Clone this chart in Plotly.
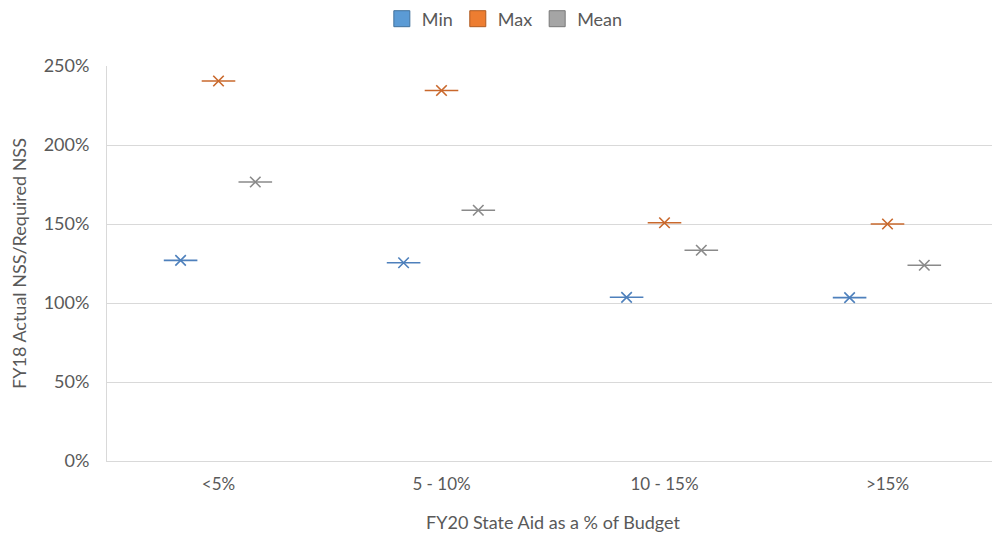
import plotly.graph_objects as go

categories = ["<5%", "5 - 10%", "10 - 15%", ">15%"]
series_names = ["Min", "Max", "Mean"]
min_vals = [1.270, 1.255, 1.036, 1.034]
max_vals = [2.405, 2.345, 1.508, 1.500]
mean_vals = [1.766, 1.587, 1.334, 1.239]
y_ticks = [0, 0.5, 1.0, 1.5, 2.0, 2.5]

values = [min_vals, max_vals, mean_vals]
offsets = [-0.17, 0.0, 0.165]
marker_colors = ["#4E80BC", "#C9682C", "#8A8A8A"]
legend_fill = ["#5B9BD5", "#ED7D31", "#A5A5A5"]
legend_border = ["#41719C", "#AE5A21", "#787878"]

fig = go.Figure()
for name, vals, off, mc, lf, lb in zip(series_names, values, offsets,
                                       marker_colors, legend_fill, legend_border):
    xs = [i + off for i in range(len(categories))]
    fig.add_trace(go.Scatter(
        x=xs, y=vals, mode="markers", showlegend=False, name=name,
        marker=dict(symbol="line-ew", size=24, color=mc,
                    line=dict(color=mc, width=1.6)),
        hoverinfo="skip"))
    fig.add_trace(go.Scatter(
        x=xs, y=vals, mode="markers", showlegend=False, name=name,
        marker=dict(symbol="x-thin", size=10.5, color=mc,
                    line=dict(color=mc, width=1.6))))
    fig.add_trace(go.Scatter(
        x=[None], y=[None], mode="markers", name=name, showlegend=True,
        marker=dict(symbol="square", size=16, color=lf,
                    line=dict(color=lb, width=1))))

font_family = "Lato, 'Open Sans', sans-serif"
fig.update_layout(
    width=992, height=530,
    margin=dict(l=99, r=1, t=58, b=77, autoexpand=False),
    paper_bgcolor="white", plot_bgcolor="white",
    font=dict(family=font_family, size=18, color="#595959"),
    legend=dict(orientation="h", x=0.446, xanchor="center", y=1.119,
                yanchor="middle", font=dict(size=18, color="#595959"),
                itemwidth=30, tracegroupgap=0),
    xaxis=dict(
        range=[-0.5, 3.5], tickmode="array",
        tickvals=list(range(len(categories))), ticktext=categories,
        showgrid=False, zeroline=False, showline=True,
        linecolor="#D9D9D9", linewidth=1, ticks="", automargin=False,
        ticklabelstandoff=8, tickfont=dict(size=17),
        title=dict(text="FY20 State Aid as a % of Budget",
                   font=dict(size=18, color="#595959"), standoff=22),
    ),
    yaxis=dict(
        range=[0, 2.5], tickmode="array", tickvals=y_ticks,
        tickformat=".0%", showgrid=True, gridcolor="#D9D9D9", gridwidth=1,
        zeroline=False, showline=True, linecolor="#D9D9D9", linewidth=1,
        ticks="", ticklabelstandoff=13, automargin=False,
        tickfont=dict(size=18),
        title=dict(text="FY18 Actual NSS/Required NSS",
                   font=dict(size=18, color="#595959"), standoff=14),
    ),
)

fig.write_html("out.html")
